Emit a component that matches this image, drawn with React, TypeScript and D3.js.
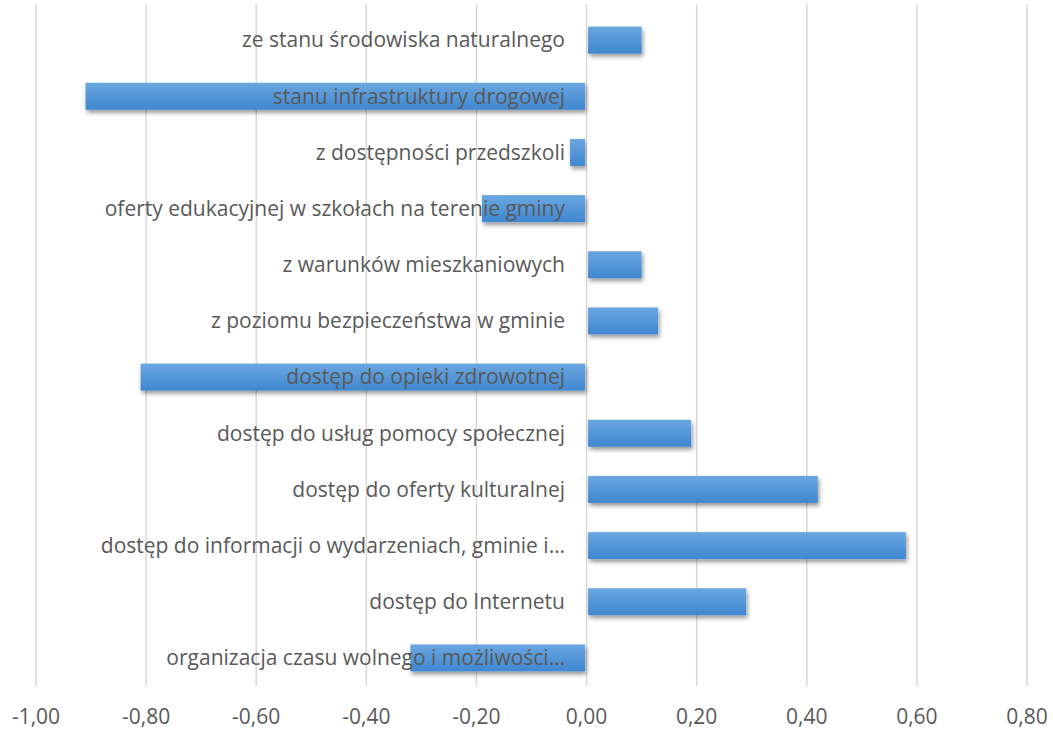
import React from "react";
import * as d3 from "d3";

const categories: string[] = [
  "ze stanu środowiska naturalnego",
  "stanu infrastruktury drogowej",
  "z dostępności przedszkoli",
  "oferty edukacyjnej w szkołach na terenie gminy",
  "z warunków mieszkaniowych",
  "z poziomu bezpieczeństwa w gminie",
  "dostęp do opieki zdrowotnej",
  "dostęp do usług pomocy społecznej",
  "dostęp do oferty kulturalnej",
  "dostęp do informacji o wydarzeniach, gminie i…",
  "dostęp do Internetu",
  "organizacja czasu wolnego i możliwości…",
];
const values: number[] = [0.1, -0.91, -0.03, -0.19, 0.1, 0.13, -0.81, 0.19, 0.42, 0.58, 0.29, -0.32];
const ticks: number[] = [-1, -0.8, -0.6, -0.4, -0.2, 0, 0.2, 0.4, 0.6, 0.8];

const W = 1053;
const H = 729;
const FONT = "'Open Sans', 'DejaVu Sans', sans-serif";
const GRAY = "#595959";

export default function App() {
  const x = d3.scaleLinear().domain([-1, 0.8]).range([36, 1027]);
  const y = d3.scaleBand<string>().domain(categories).range([12, 686]).paddingInner(0.52).paddingOuter(0.26);
  const fmt = (v: number) => d3.format(".2f")(v).replace(".", ",").replace("−", "-");
  const bh = y.bandwidth();
  return (
    <svg width={W} height={H} style={{ position: "absolute", left: 0, top: 0, background: "#fff" }}>
      <defs>
        <linearGradient id="barGrad" x1="0" y1="0" x2="0" y2="1">
          <stop offset="0" stopColor="#6aa7e0" />
          <stop offset="1" stopColor="#3f87d0" />
        </linearGradient>
        <filter id="shadow" x="-10%" y="-30%" width="120%" height="180%">
          <feDropShadow dx="1.5" dy="3" stdDeviation="2.2" floodColor="#000" floodOpacity="0.4" />
        </filter>
      </defs>
      {ticks.map((t) => (
        <line key={"g" + t} x1={x(t)} x2={x(t)} y1={4} y2={686} stroke="#d9d9d9" strokeWidth={1.5} />
      ))}
      {categories.map((c, i) => {
        const v = values[i];
        const x0 = v >= 0 ? x(0) + 1.5 : x(v);
        const w = Math.abs(x(v) - x(0)) - 1.5;
        return (
          <rect key={"b" + i} x={x0} y={y(c)!} width={w} height={bh} fill="url(#barGrad)" filter="url(#shadow)" />
        );
      })}
      {categories.map((c) => (
        <text
          key={"l" + c}
          x={565}
          y={y(c)! + bh / 2}
          dy="0.35em"
          textAnchor="end"
          fontFamily={FONT}
          fontSize={21}
          fill={GRAY}
        >
          {c}
        </text>
      ))}
      {ticks.map((t) => (
        <text
          key={"t" + t}
          x={x(t)}
          y={717}
          dy="0.35em"
          textAnchor="middle"
          fontFamily={FONT}
          fontSize={21}
          fill={GRAY}
        >
          {fmt(t)}
        </text>
      ))}
    </svg>
  );
}
